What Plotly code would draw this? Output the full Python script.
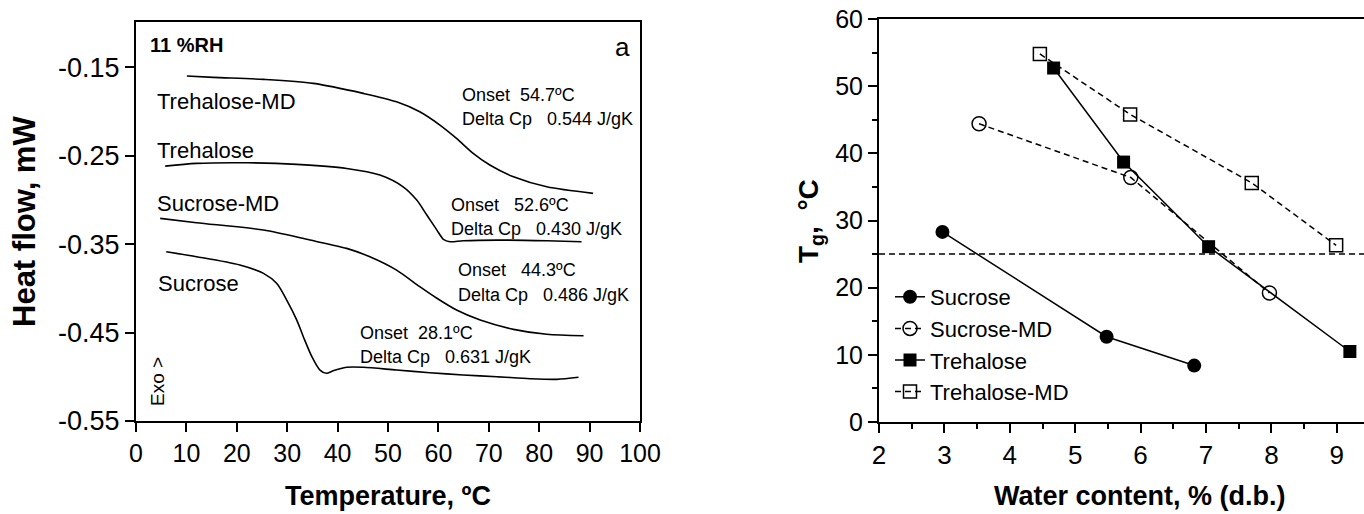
import plotly.graph_objects as go

# ---------------- Left panel: DSC curves (11 %RH) ----------------
treMD_T = [10.1, 15.3, 25.3, 35.2, 45.1, 51.7, 56.3, 60.3, 63.6, 66.9, 70.2, 74.9, 81.5, 90.7]
treMD_H = [-0.160, -0.1616, -0.1639, -0.1684, -0.1797, -0.1892, -0.2005, -0.2155, -0.2306, -0.2475, -0.2607, -0.2740, -0.2853, -0.2927]

tre_T = [5.8, 12.0, 22.0, 31.9, 41.8, 48.4, 53.0, 55.7, 57.7, 59.7, 61.0, 62.3, 64.9, 71.6, 81.5, 88.4]
tre_H = [-0.2619, -0.2588, -0.2581, -0.2599, -0.2645, -0.2720, -0.2853, -0.3003, -0.3172, -0.3342, -0.3447, -0.3474, -0.3463, -0.3455, -0.3463, -0.3474]

sucMD_T = [4.8, 12.0, 25.3, 34.5, 41.8, 46.4, 51.7, 56.3, 59.7, 63.6, 68.3, 74.9, 81.5, 88.8]
sucMD_H = [-0.3210, -0.3259, -0.3342, -0.3455, -0.3549, -0.3643, -0.3794, -0.3982, -0.4113, -0.4246, -0.4359, -0.4464, -0.4520, -0.4536]

suc_T = [6.0, 12.0, 20.6, 25.3, 27.9, 29.9, 31.9, 33.2, 34.9, 36.5, 37.8, 39.1, 41.8, 45.1, 51.7, 58.3, 64.9, 71.6, 78.2, 83.5, 87.8]
suc_H = [-0.3587, -0.3643, -0.3737, -0.3831, -0.3944, -0.4133, -0.4359, -0.4547, -0.4773, -0.4924, -0.4961, -0.4932, -0.4893, -0.4893, -0.4924, -0.4954, -0.4980, -0.4999, -0.5022, -0.5029, -0.5006]

left_xticks = [0, 10, 20, 30, 40, 50, 60, 70, 80, 90, 100]
left_yticks = [-0.15, -0.25, -0.35, -0.45, -0.55]
left_ytick_text = ["-0.15", "-0.25", "-0.35", "-0.45", "-0.55"]

# ---------------- Right panel: Tg vs water content ----------------
suc_w = [2.97, 5.48, 6.82]
suc_tg = [28.3, 12.7, 8.4]
sucMD_w = [3.53, 5.85, 7.97]
sucMD_tg = [44.4, 36.4, 19.2]
tre_w = [4.67, 5.74, 7.04, 9.20]
tre_tg = [52.7, 38.7, 26.1, 10.5]
treMD_w = [4.46, 5.84, 7.70, 8.99]
treMD_tg = [54.8, 45.8, 35.6, 26.3]
tg_ref = 25.0
right_xticks = [2, 3, 4, 5, 6, 7, 8, 9]
right_yticks = [0, 10, 20, 30, 40, 50, 60]

FONT = "Liberation Sans, Arial, sans-serif"
BLACK = "#000000"

fig = go.Figure()

for T, H in [(treMD_T, treMD_H), (tre_T, tre_H), (sucMD_T, sucMD_H), (suc_T, suc_H)]:
    fig.add_trace(go.Scatter(x=T, y=H, mode="lines", line=dict(color=BLACK, width=1.6, shape="spline", smoothing=0.8),
                             xaxis="x", yaxis="y", showlegend=False, hoverinfo="skip"))

dash = "6px,4px"
fig.add_trace(go.Scatter(x=suc_w, y=suc_tg, mode="lines+markers", name="Sucrose",
                         line=dict(color=BLACK, width=1.5),
                         marker=dict(symbol="circle", size=14, color=BLACK),
                         xaxis="x2", yaxis="y2"))
fig.add_trace(go.Scatter(x=sucMD_w, y=sucMD_tg, mode="lines+markers", name="Sucrose-MD",
                         line=dict(color=BLACK, width=1.5, dash=dash),
                         marker=dict(symbol="circle-open", size=14, color=BLACK, line=dict(width=1.5, color=BLACK)),
                         xaxis="x2", yaxis="y2"))
fig.add_trace(go.Scatter(x=tre_w, y=tre_tg, mode="lines+markers", name="Trehalose",
                         line=dict(color=BLACK, width=1.5),
                         marker=dict(symbol="square", size=13, color=BLACK),
                         xaxis="x2", yaxis="y2"))
fig.add_trace(go.Scatter(x=treMD_w, y=treMD_tg, mode="lines+markers", name="Trehalose-MD",
                         line=dict(color=BLACK, width=1.5, dash=dash),
                         marker=dict(symbol="square-open", size=13, color=BLACK, line=dict(width=1.5, color=BLACK)),
                         xaxis="x2", yaxis="y2"))

W, Hh = 1364, 514
def px(x):
    return x / W
def py(y):
    return 1 - y / Hh

right_xmax = 9.416

fig.add_shape(type="line", xref="x2", yref="y2", x0=2, x1=right_xmax, y0=tg_ref, y1=tg_ref,
              line=dict(color=BLACK, width=1.5, dash="6px,4px"))

def axis_common(size):
    return dict(showgrid=False, zeroline=False, showline=True, linecolor=BLACK, linewidth=2,
                ticks="outside", tickcolor=BLACK, tickwidth=1.5, ticklen=9, automargin=False,
                tickfont=dict(family=FONT, size=size, color=BLACK))

fig.update_layout(
    template="none",
    width=W, height=Hh, margin=dict(l=0, r=0, t=0, b=0, autoexpand=False),
    paper_bgcolor="white", plot_bgcolor="white",
    font=dict(family=FONT, color=BLACK),
    xaxis=dict(domain=[px(136), px(640)], range=[0, 100], tickvals=left_xticks, mirror=True, anchor="y", **axis_common(25)),
    yaxis=dict(domain=[py(421), py(22)], range=[-0.55, -0.099], tickvals=left_yticks, ticktext=left_ytick_text,
               mirror=True, anchor="x", **axis_common(27)),
    xaxis2=dict(domain=[px(879), 1.0], range=[2, right_xmax], tickvals=right_xticks, anchor="y2", mirror=True,
                minor=dict(ticks="outside", dtick=0.5, ticklen=5, tickcolor=BLACK, tickwidth=1.5), **axis_common(26)),
    yaxis2=dict(domain=[py(422), py(19)], range=[0, 60], tickvals=right_yticks, anchor="x2",
                minor=dict(ticks="outside", dtick=5, ticklen=5, tickcolor=BLACK, tickwidth=1.5), **axis_common(25)),
    showlegend=True,
    legend=dict(x=px(890), y=py(276), xanchor="left", yanchor="top", bgcolor="rgba(0,0,0,0)",
                font=dict(family=FONT, size=22, color=BLACK), tracegroupgap=0),
)

ann = []
def text(x, y, s, size=18, bold=False, xanchor="left", angle=0):
    ann.append(dict(x=px(x), y=py(y), xref="paper", yref="paper", text=("<b>%s</b>" % s) if bold else s,
                    showarrow=False, xanchor=xanchor, yanchor="middle", textangle=angle,
                    font=dict(family=FONT, size=size, color=BLACK)))

# Left panel texts
text(148, 45, "11 %RH", size=20, bold=True)
text(632, 47, "a", size=26, xanchor="right")
text(155, 102, "Trehalose-MD", size=22)
text(155, 150, "Trehalose", size=22)
text(155, 204, "Sucrose-MD", size=22)
text(156, 283, "Sucrose", size=22)
text(157, 382, "Exo &gt;", size=19, xanchor="center", angle=-90)
text(460, 95, "Onset  54.7ºC", size=18)
text(460, 119, "Delta Cp   0.544 J/gK", size=18)
text(449, 205, "Onset   52.6ºC", size=18)
text(449, 229, "Delta Cp   0.430 J/gK", size=18)
text(456, 270, "Onset   44.3ºC", size=18)
text(456, 295, "Delta Cp   0.486 J/gK", size=18)
text(358, 333, "Onset  28.1ºC", size=18)
text(358, 357, "Delta Cp   0.631 J/gK", size=18)

# Axis titles
text(388, 496, "Temperature, ºC", size=27, bold=True, xanchor="center")
text(24, 222, "Heat flow, mW", size=31, bold=True, xanchor="center", angle=-90)
text(1140, 496, "Water content, % (d.b.)", size=27, bold=True, xanchor="center")
text(810, 221, "T<sub>g</sub>,  °C", size=28, bold=True, xanchor="center", angle=-90)

fig.update_layout(annotations=ann)

fig.write_html("out.html", config={"displayModeBar": False},
               post_script="document.body.style.margin='0';document.body.style.overflow='hidden';")
